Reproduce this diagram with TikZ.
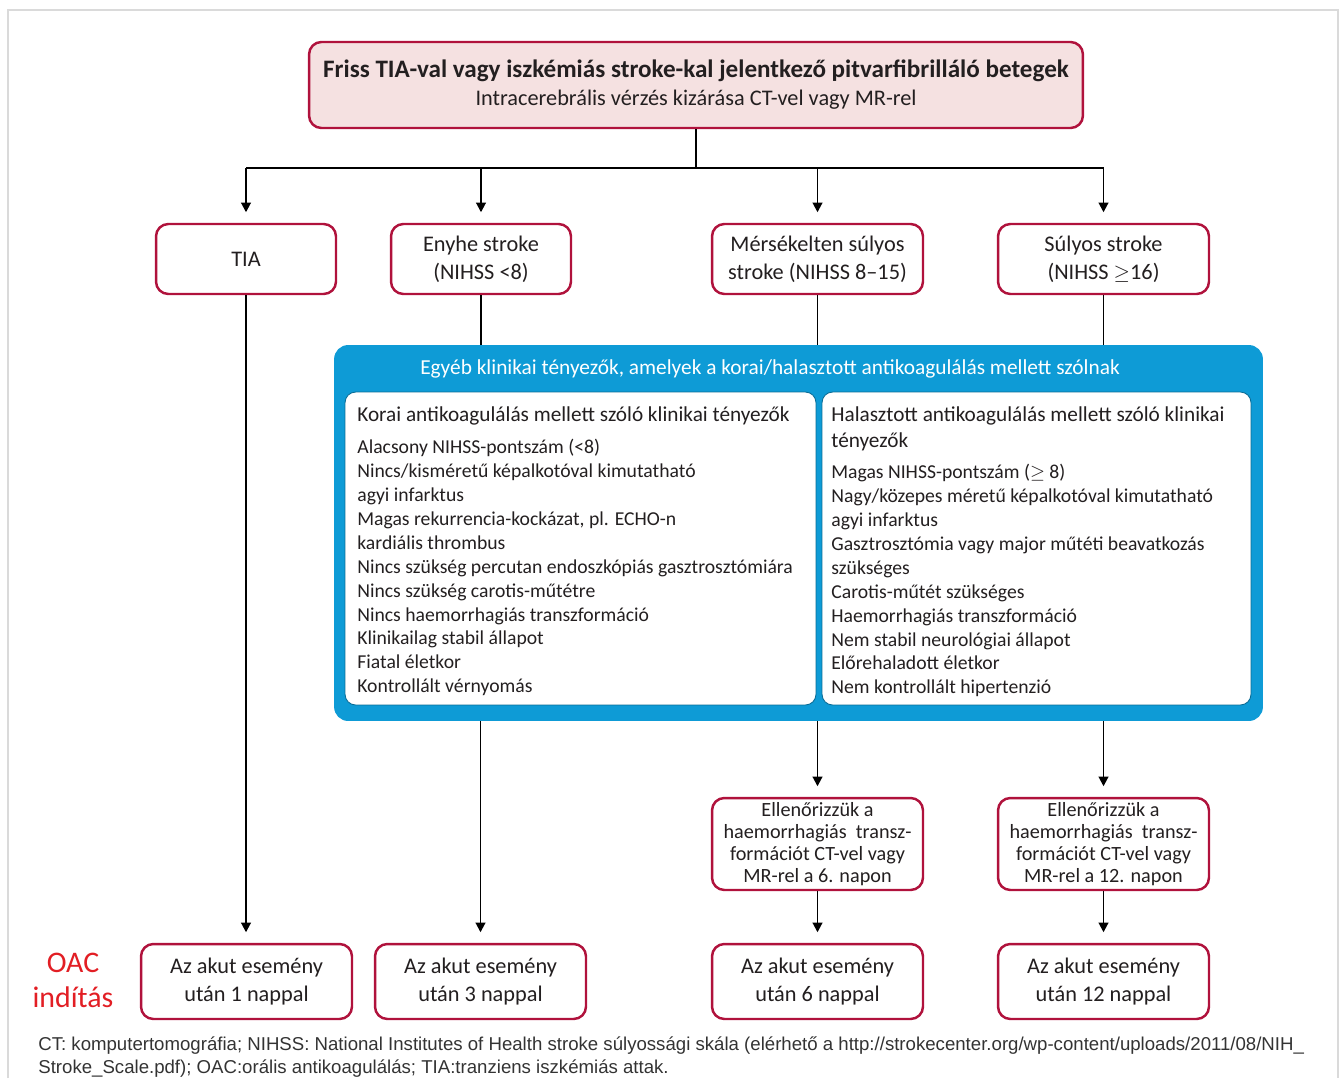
\documentclass[tikz,border=0pt]{standalone}
\usepackage{fontspec}
\setmainfont{Carlito}
\newfontfamily\arialfont{Liberation Sans}
\usepackage{tikz}
\usetikzlibrary{arrows.meta, positioning}
\definecolor{rubin}{RGB}{176, 18, 60}
\definecolor{rozsa}{RGB}{245, 225, 225}
\definecolor{kekes}{RGB}{14, 155, 214}
\definecolor{piros}{RGB}{226, 30, 36}
\definecolor{keret}{RGB}{218, 218, 218}
\definecolor{szoveg}{RGB}{35, 31, 32}

\begin{document}
\begin{tikzpicture}[x=0.02cm, y=-0.02cm, every node/.style={text=szoveg},
    doboz/.style={draw=rubin, line width=1.4pt, rounded corners=7pt, fill=white,
                  align=center, inner sep=2pt, font=\fontsize{12.7}{16}\selectfont},
    kisdoboz/.style={doboz, font=\fontsize{11.5}{12.5}\selectfont},
    feher/.style={draw=kekes!70!black, line width=0.5pt, fill=white, rounded corners=6pt},
    fejlec/.style={anchor=north west, inner sep=0pt, align=left, font=\fontsize{12.1}{15.3}\selectfont},
    lista/.style={anchor=north west, inner sep=0pt, align=left, font=\fontsize{11.2}{13.6}\selectfont},
    vonal/.style={line width=1.1pt, black},
    nyil/.style={vonal, -{Triangle[width=5.5pt, length=5.5pt]}, shorten >=0.21cm}]
  \useasboundingbox (0,0) rectangle (1341,1078);
  \draw[keret, line width=1pt] (8,1078) -- (8,10) -- (1338,10) -- (1338,1078);

  \node[doboz, fill=rozsa, minimum width=15.48cm, minimum height=1.72cm] (fej) at (696,85)
    {{\fontsize{14.3}{15.3}\selectfont\bfseries Friss TIA-val vagy iszkémiás stroke-kal jelentkező pitvarfibrilláló betegek}\\
     {\fontsize{12.7}{15.3}\selectfont Intracerebrális vérzés kizárása CT-vel vagy MR-rel}};

  \node[doboz, minimum width=3.6cm, minimum height=1.4cm] (tia) at (246,259) {TIA};
  \node[doboz, minimum width=3.6cm, minimum height=1.4cm] (enyhe) at (481,259)
    {Enyhe stroke\\(NIHSS <8)};
  \node[doboz, minimum width=4.22cm, minimum height=1.4cm] (mersek) at (817.5,259)
    {Mérsékelten súlyos\\stroke (NIHSS 8–15)};
  \node[doboz, minimum width=4.22cm, minimum height=1.4cm] (sulyos) at (1103.5,259)
    {Súlyos stroke\\(NIHSS $\geq$16)};

  \coordinate (elag) at (696,168);
  \draw[vonal] (fej.south) -- (elag);
  \draw[vonal] (elag -| tia.north) -- (elag -| sulyos.north);
  \foreach \cel in {tia, enyhe, mersek, sulyos}
    \draw[nyil] (elag -| \cel.north) -- (\cel.north);

  \node[fill=kekes, rounded corners=8pt, minimum width=18.58cm, minimum height=7.52cm] (tenyezok) at (798.5,533) {};
  \node[text=white, font=\fontsize{12.15}{14}\selectfont] (tenyezocim) at (770,369)
    {Egyéb klinikai tényezők, amelyek a korai/halasztott antikoagulálás mellett szólnak};
  \node[feher, minimum width=9.42cm, minimum height=6.26cm] (korai) at (580.5,548.5) {};
  \node[feher, minimum width=8.58cm, minimum height=6.26cm] (halasztott) at (1036.5,548.5) {};

  \node[fejlec] (koraicim) at (357,406) {Korai antikoagulálás mellett szóló klinikai tényezők};
  \node[lista] (korailista) at (357,439)
    {Alacsony NIHSS-pontszám (<8)\\
     Nincs/kisméretű képalkotóval kimutatható\\
     agyi infarktus\\
     Magas rekurrencia-kockázat, pl. ECHO-n\\
     kardiális thrombus\\
     Nincs szükség percutan endoszkópiás gasztrosztómiára\\
     Nincs szükség carotis-műtétre\\
     Nincs haemorrhagiás transzformáció\\
     Klinikailag stabil állapot\\
     Fiatal életkor\\
     Kontrollált vérnyomás};
  \node[fejlec] (halasztottcim) at (831,406)
    {Halasztott antikoagulálás mellett szóló klinikai\\tényezők};
  \node[lista] (halasztottlista) at (831,464)
    {Magas NIHSS-pontszám ($\geq$ 8)\\
     Nagy/közepes méretű képalkotóval kimutatható\\
     agyi infarktus\\
     Gasztrosztómia vagy major műtéti beavatkozás\\
     szükséges\\
     Carotis-műtét szükséges\\
     Haemorrhagiás transzformáció\\
     Nem stabil neurológiai állapot\\
     Előrehaladott életkor\\
     Nem kontrollált hipertenzió};

  \node[kisdoboz, minimum width=4.22cm, minimum height=1.84cm] (ellen6) at (817.5,844)
    {Ellenőrizzük a\\haemorrhagiás\ \ transz-\\formációt CT-vel vagy\\MR-rel a 6. napon};
  \node[kisdoboz, minimum width=4.22cm, minimum height=1.84cm] (ellen12) at (1103.5,844)
    {Ellenőrizzük a\\haemorrhagiás\ \ transz-\\formációt CT-vel vagy\\MR-rel a 12. napon};

  \node[doboz, minimum width=4.22cm, minimum height=1.5cm] (akut1) at (246.5,981.5)
    {Az akut esemény\\után 1 nappal};
  \node[doboz, minimum width=4.22cm, minimum height=1.5cm] (akut3) at (480.5,981.5)
    {Az akut esemény\\után 3 nappal};
  \node[doboz, minimum width=4.22cm, minimum height=1.5cm] (akut6) at (817.5,981.5)
    {Az akut esemény\\után 6 nappal};
  \node[doboz, minimum width=4.22cm, minimum height=1.5cm] (akut12) at (1103.5,981.5)
    {Az akut esemény\\után 12 nappal};
  \node[text=piros, align=center, font=\fontsize{17}{20}\selectfont] (oac) at (73,980)
    {OAC\\indítás};

  \draw[nyil] (tia.south) -- (tia.south |- akut1.north);
  \draw[vonal] (enyhe.south) -- (enyhe.south |- tenyezok.north);
  \draw[nyil] (akut3.north |- tenyezok.south) -- (akut3.north);
  \draw[vonal] (mersek.south) -- (mersek.south |- tenyezok.north);
  \draw[nyil] (ellen6.north |- tenyezok.south) -- (ellen6.north);
  \draw[nyil] (ellen6.south) -- (akut6.north);
  \draw[vonal] (sulyos.south) -- (sulyos.south |- tenyezok.north);
  \draw[nyil] (ellen12.north |- tenyezok.south) -- (ellen12.north);
  \draw[nyil] (ellen12.south) -- (akut12.north);

  \node[anchor=north west, inner sep=0pt, align=left, text=black!80,
        font=\arialfont\fontsize{10.6}{13.6}\selectfont] (labjegyzet) at (38,1036)
    {CT: komputertomográfia; NIHSS: National Institutes of Health stroke súlyossági skála (elérhető a http://strokecenter.org/wp-content/uploads/2011/08/NIH\_\\
     Stroke\_Scale.pdf); OAC:orális antikoagulálás; TIA:tranziens iszkémiás attak.};
\end{tikzpicture}
\end{document}
